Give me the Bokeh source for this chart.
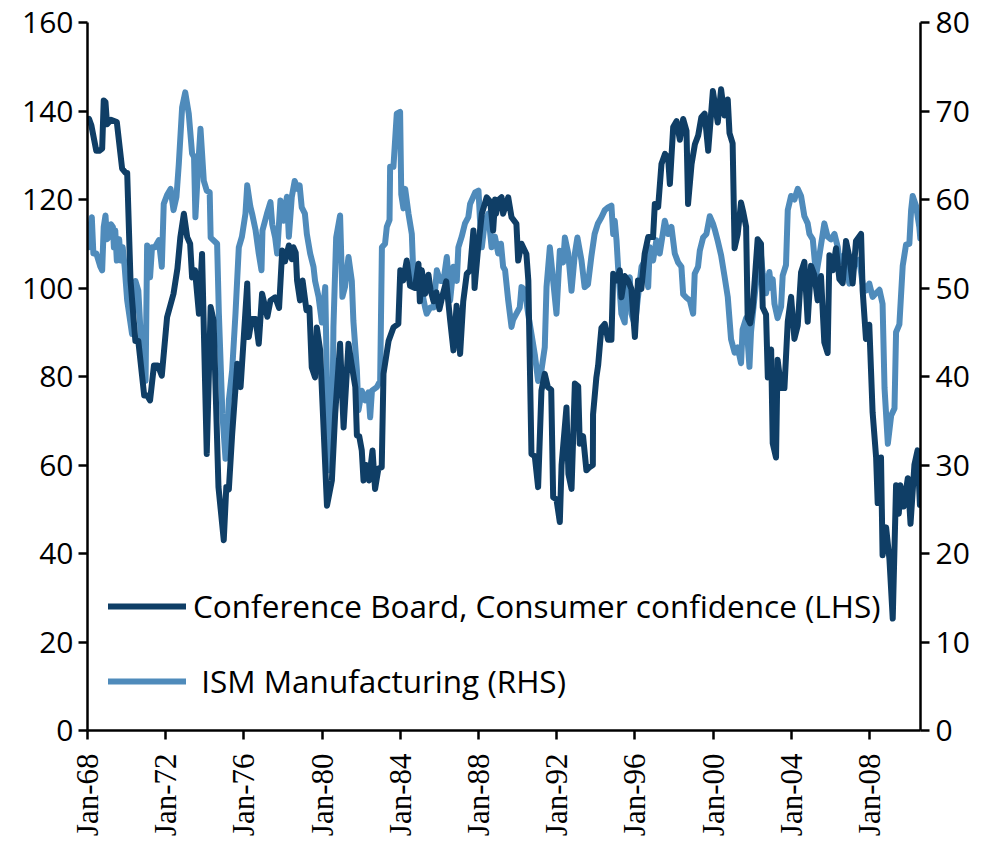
import math
from bokeh.plotting import figure
from bokeh.models import (Range1d, LinearAxis, FixedTicker, Legend, LegendItem,
                          ColumnDataSource)
from bokeh.embed import file_html
from bokeh.resources import INLINE

# ---------------- data ----------------
cb_year = [1968.00, 1968.08, 1968.20, 1968.45, 1968.60, 1968.75, 1968.83, 1968.92, 1969.00, 1969.20,
           1969.50, 1969.77, 1969.95, 1970.03, 1970.20, 1970.45, 1970.60, 1970.90, 1971.05, 1971.20,
           1971.40, 1971.60, 1971.80, 1972.07, 1972.40, 1972.60, 1972.75, 1972.93, 1973.10, 1973.25,
           1973.35, 1973.50, 1973.70, 1973.86, 1974.10, 1974.30, 1974.45, 1974.55, 1974.70, 1974.97,
           1975.10, 1975.23, 1975.40, 1975.66, 1975.83, 1976.17, 1976.25, 1976.40, 1976.60, 1976.76,
           1976.93, 1977.20, 1977.36, 1977.60, 1977.80, 1977.96, 1978.10, 1978.30, 1978.45, 1978.53,
           1978.65, 1978.72, 1978.87, 1979.00, 1979.20, 1979.35, 1979.47, 1979.64, 1979.73, 1979.90,
           1980.25, 1980.50, 1980.67, 1980.92, 1981.10, 1981.35, 1981.50, 1981.70, 1981.78, 1981.90,
           1982.03, 1982.12, 1982.25, 1982.40, 1982.58, 1982.71, 1982.88, 1983.05, 1983.14, 1983.40,
           1983.65, 1983.90, 1984.00, 1984.15, 1984.33, 1984.50, 1984.75, 1984.93, 1985.00, 1985.10,
           1985.27, 1985.44, 1985.55, 1985.70, 1985.85, 1986.00, 1986.20, 1986.35, 1986.55, 1986.72,
           1986.88, 1987.06, 1987.22, 1987.40, 1987.57, 1987.74, 1987.80, 1987.97, 1988.17, 1988.42,
           1988.60, 1988.75, 1988.85, 1988.90, 1989.05, 1989.18, 1989.26, 1989.52, 1989.69, 1989.94,
           1990.03, 1990.20, 1990.45, 1990.55, 1990.62, 1990.71, 1990.88, 1991.05, 1991.22, 1991.39,
           1991.55, 1991.72, 1991.82, 1991.99, 1992.16, 1992.25, 1992.50, 1992.60, 1992.76, 1992.93,
           1993.10, 1993.18, 1993.35, 1993.52, 1993.68, 1993.85, 1993.86, 1994.03, 1994.12, 1994.20,
           1994.29, 1994.46, 1994.63, 1994.80, 1994.89, 1995.06, 1995.23, 1995.31, 1995.48, 1995.65,
           1995.82, 1996.00, 1996.16, 1996.33, 1996.50, 1996.68, 1996.93, 1997.02, 1997.19, 1997.36,
           1997.54, 1997.70, 1997.79, 1997.96, 1998.13, 1998.30, 1998.47, 1998.64, 1998.72, 1998.90,
           1999.07, 1999.24, 1999.40, 1999.57, 1999.75, 1999.99, 2000.24, 2000.41, 2000.58, 2000.75,
           2000.84, 2001.00, 2001.10, 2001.26, 2001.43, 2001.55, 2001.69, 2001.77, 2001.90, 2002.03,
           2002.28, 2002.45, 2002.54, 2002.71, 2002.80, 2002.97, 2003.05, 2003.22, 2003.30, 2003.48,
           2003.65, 2003.82, 2003.99, 2004.16, 2004.33, 2004.50, 2004.67, 2004.84, 2005.01, 2005.18,
           2005.35, 2005.52, 2005.69, 2005.86, 2005.95, 2006.12, 2006.29, 2006.46, 2006.63, 2006.80,
           2006.97, 2007.14, 2007.31, 2007.57, 2007.65, 2007.82, 2007.99, 2008.16, 2008.34, 2008.42,
           2008.59, 2008.67, 2008.85, 2009.02, 2009.19, 2009.36, 2009.50, 2009.58, 2009.75, 2009.96,
           2010.10, 2010.30, 2010.46, 2010.58]
cb_value = [138.0, 138.2, 136.7, 131.0, 131.0, 131.5, 142.4, 142.0, 137.0, 138.0,
            137.5, 127.0, 126.0, 126.0, 101.7, 88.0, 88.0, 75.7, 75.7, 74.6,
            82.5, 82.5, 80.2, 93.4, 98.7, 104.4, 111.5, 116.8, 111.5, 110.0,
            102.4, 104.0, 94.2, 107.7, 62.5, 95.7, 92.7, 77.6, 55.0, 43.0,
            55.0, 54.5, 67.0, 82.9, 77.6, 101.0, 88.9, 93.0, 93.0, 87.4,
            98.7, 93.5, 97.2, 97.9, 95.5, 108.5, 106.0, 109.6, 106.5, 109.2,
            108.0, 101.7, 97.2, 101.7, 95.0, 95.5, 82.1, 79.8, 91.1, 86.0,
            50.8, 56.5, 71.6, 87.4, 68.5, 87.4, 83.0, 77.6, 66.7, 66.5,
            63.3, 56.5, 60.0, 56.5, 63.3, 54.6, 59.2, 59.5, 80.6, 88.0,
            91.1, 91.9, 104.0, 101.7, 106.2, 100.5, 100.0, 105.5, 97.0, 104.0,
            98.7, 103.0, 99.5, 97.0, 99.0, 95.2, 99.0, 101.5, 92.7, 85.9,
            96.0, 85.1, 97.0, 103.2, 104.0, 113.0, 100.0, 108.5, 116.8, 120.5,
            119.5, 113.0, 120.0, 116.8, 120.0, 120.5, 116.8, 120.5, 116.0, 114.5,
            106.2, 110.0, 107.7, 101.7, 84.4, 62.5, 62.0, 55.0, 76.8, 80.6,
            77.6, 77.0, 52.7, 52.2, 47.1, 60.0, 73.0, 58.0, 54.6, 78.4,
            77.8, 64.8, 66.5, 58.8, 59.5, 60.0, 71.4, 79.8, 82.5, 86.6,
            91.0, 91.9, 88.3, 88.3, 103.2, 101.7, 104.0, 97.9, 102.7, 101.7,
            99.8, 88.9, 101.7, 99.8, 107.7, 111.5, 111.5, 119.0, 118.3, 128.0,
            130.3, 129.5, 123.5, 136.4, 137.7, 133.5, 138.2, 135.5, 119.0, 128.0,
            132.5, 134.5, 138.6, 139.4, 131.0, 144.5, 137.4, 144.9, 139.0, 142.6,
            135.0, 132.7, 109.0, 112.2, 119.3, 117.0, 113.8, 93.2, 92.0, 95.6,
            111.0, 110.0, 95.6, 94.0, 79.8, 86.1, 64.9, 61.7, 83.8, 77.4,
            77.4, 92.4, 98.0, 88.5, 91.5, 103.5, 105.9, 92.4, 105.0, 103.0,
            97.2, 102.7, 87.7, 85.3, 107.4, 104.0, 109.0, 102.0, 101.1, 110.6,
            107.0, 101.0, 110.6, 112.2, 99.5, 88.5, 91.7, 71.9, 61.7, 51.4,
            61.7, 39.6, 45.9, 38.8, 25.3, 55.4, 49.0, 55.4, 50.6, 57.0,
            46.7, 60.1, 63.3, 51.0]

ism_year = [1968.00, 1968.07, 1968.15, 1968.22, 1968.30, 1968.45, 1968.66, 1968.75, 1968.83, 1968.92,
            1969.00, 1969.10, 1969.20, 1969.30, 1969.35, 1969.42, 1969.50, 1969.62, 1969.70, 1969.80,
            1969.90, 1970.03, 1970.28, 1970.45, 1970.60, 1970.80, 1970.97, 1971.05, 1971.20, 1971.30,
            1971.45, 1971.65, 1971.80, 1971.90, 1972.07, 1972.25, 1972.40, 1972.55, 1972.67, 1972.84,
            1973.00, 1973.18, 1973.35, 1973.45, 1973.52, 1973.65, 1973.78, 1973.95, 1974.10, 1974.25,
            1974.30, 1974.63, 1974.72, 1974.90, 1975.06, 1975.15, 1975.23, 1975.40, 1975.57, 1975.74,
            1975.90, 1976.08, 1976.17, 1976.33, 1976.42, 1976.60, 1976.76, 1976.90, 1976.95, 1977.18,
            1977.36, 1977.45, 1977.60, 1977.70, 1977.87, 1978.03, 1978.20, 1978.30, 1978.45, 1978.60,
            1978.75, 1978.85, 1978.96, 1979.12, 1979.22, 1979.39, 1979.56, 1979.64, 1979.82, 1979.99,
            1980.16, 1980.33, 1980.50, 1980.58, 1980.72, 1980.92, 1981.04, 1981.17, 1981.35, 1981.52,
            1981.60, 1981.78, 1981.86, 1982.03, 1982.20, 1982.37, 1982.46, 1982.55, 1982.80, 1982.97,
            1983.06, 1983.22, 1983.31, 1983.45, 1983.48, 1983.65, 1983.82, 1983.99, 1984.05, 1984.16,
            1984.25, 1984.42, 1984.59, 1984.68, 1984.85, 1985.02, 1985.10, 1985.27, 1985.35, 1985.53,
            1985.70, 1985.87, 1986.04, 1986.21, 1986.38, 1986.55, 1986.72, 1986.89, 1986.97, 1987.14,
            1987.31, 1987.48, 1987.57, 1987.83, 1988.00, 1988.08, 1988.17, 1988.33, 1988.50, 1988.67,
            1988.84, 1989.01, 1989.15, 1989.26, 1989.36, 1989.52, 1989.69, 1989.77, 1989.94, 1990.11,
            1990.20, 1990.37, 1990.54, 1990.71, 1990.88, 1991.05, 1991.22, 1991.39, 1991.48, 1991.65,
            1991.82, 1991.99, 1992.16, 1992.33, 1992.42, 1992.59, 1992.76, 1992.93, 1993.06, 1993.27,
            1993.43, 1993.60, 1993.77, 1993.94, 1994.11, 1994.29, 1994.46, 1994.63, 1994.80, 1994.89,
            1994.97, 1995.06, 1995.14, 1995.31, 1995.48, 1995.57, 1995.74, 1995.82, 1996.00, 1996.16,
            1996.34, 1996.51, 1996.68, 1996.76, 1996.93, 1997.10, 1997.27, 1997.44, 1997.53, 1997.70,
            1997.87, 1998.04, 1998.21, 1998.38, 1998.47, 1998.64, 1998.81, 1998.98, 1999.06, 1999.23,
            1999.32, 1999.49, 1999.66, 1999.83, 1999.99, 2000.10, 2000.24, 2000.41, 2000.58, 2000.75,
            2000.92, 2001.10, 2001.26, 2001.43, 2001.51, 2001.69, 2001.86, 2001.94, 2002.12, 2002.28,
            2002.45, 2002.54, 2002.71, 2002.88, 2002.97, 2003.05, 2003.14, 2003.30, 2003.48, 2003.56,
            2003.73, 2003.82, 2003.99, 2004.16, 2004.33, 2004.50, 2004.67, 2004.84, 2004.93, 2005.10,
            2005.27, 2005.44, 2005.69, 2005.86, 2006.03, 2006.21, 2006.38, 2006.46, 2006.63, 2006.80,
            2006.97, 2007.14, 2007.31, 2007.48, 2007.65, 2007.82, 2007.99, 2008.16, 2008.33, 2008.51,
            2008.67, 2008.77, 2008.94, 2009.11, 2009.28, 2009.36, 2009.53, 2009.70, 2009.87, 2010.04,
            2010.13, 2010.21, 2010.38, 2010.55, 2010.60]
ism_value = [56.5, 54.6, 56.9, 58.0, 53.9, 53.9, 52.4, 52.0, 56.9, 58.2,
             55.5, 55.8, 57.2, 56.9, 54.6, 56.5, 53.1, 55.5, 53.1, 54.6,
             52.4, 48.6, 44.8, 50.8, 49.7, 41.4, 39.5, 54.8, 51.2, 54.6,
             54.6, 55.4, 52.4, 59.5, 60.5, 61.2, 58.8, 60.3, 64.0, 70.4,
             72.1, 69.7, 65.2, 64.8, 58.0, 63.4, 68.0, 62.1, 61.0, 60.8,
             55.7, 55.0, 47.1, 35.8, 30.7, 31.6, 37.3, 40.7, 47.1, 54.6,
             55.8, 58.4, 61.6, 59.2, 58.4, 56.5, 53.9, 52.0, 56.5, 58.4,
             59.7, 57.2, 55.7, 53.9, 59.9, 57.6, 60.3, 55.8, 60.3, 62.1,
             61.2, 61.6, 59.1, 58.4, 56.1, 53.9, 52.4, 50.8, 49.0, 46.1,
             50.1, 29.4, 29.8, 45.6, 55.7, 58.2, 49.0, 50.1, 53.5, 50.8,
             46.3, 40.7, 36.2, 38.4, 37.3, 38.2, 35.4, 38.4, 38.8, 39.5,
             54.6, 55.0, 56.9, 57.7, 63.7, 63.7, 69.7, 69.9, 60.6, 59.0,
             61.2, 58.4, 56.1, 50.8, 50.5, 50.5, 49.7, 47.8, 47.1, 47.8,
             47.8, 52.0, 50.8, 50.8, 53.5, 48.6, 52.4, 50.8, 54.6, 55.8,
             57.3, 58.0, 59.5, 60.8, 61.0, 57.6, 54.6, 57.6, 58.4, 54.6,
             55.8, 53.9, 55.0, 52.4, 52.0, 48.6, 45.6, 46.4, 47.1, 47.8,
             50.1, 49.8, 47.1, 44.8, 42.5, 39.5, 40.7, 43.3, 50.1, 54.6,
             50.8, 47.1, 54.2, 52.9, 55.7, 53.9, 49.7, 53.9, 55.7, 53.1,
             50.1, 50.4, 53.5, 56.1, 57.3, 58.0, 58.8, 59.1, 59.3, 56.1,
             57.6, 55.4, 52.4, 47.1, 46.1, 50.8, 51.2, 47.1, 45.8, 49.0,
             52.4, 53.1, 50.1, 54.6, 53.1, 55.4, 53.9, 56.3, 57.6, 56.1,
             56.9, 53.9, 52.9, 52.4, 49.3, 48.9, 48.6, 47.1, 51.6, 52.4,
             54.2, 55.7, 56.1, 58.1, 57.3, 56.5, 55.3, 53.7, 51.4, 49.0,
             44.2, 42.7, 43.3, 41.5, 45.3, 46.6, 41.1, 45.0, 49.0, 52.1,
             53.7, 51.6, 49.4, 51.8, 50.0, 51.0, 48.2, 46.6, 47.9, 51.4,
             52.6, 58.8, 60.4, 60.0, 61.2, 60.4, 58.1, 57.3, 56.1, 55.5,
             51.4, 53.7, 57.3, 55.8, 55.5, 56.1, 54.6, 52.9, 53.6, 52.1,
             50.5, 52.1, 52.9, 53.2, 50.5, 49.7, 50.5, 49.0, 49.4, 49.8,
             48.2, 38.7, 32.4, 35.6, 36.4, 45.0, 45.9, 52.5, 54.9, 55.0,
             58.8, 60.4, 59.3, 56.9, 55.6]

x_ticks = [1968, 1972, 1976, 1980, 1984, 1988, 1992, 1996, 2000, 2004, 2008]
x_tick_labels = ["Jan-68", "Jan-72", "Jan-76", "Jan-80", "Jan-84", "Jan-88",
                 "Jan-92", "Jan-96", "Jan-00", "Jan-04", "Jan-08"]
left_ticks = [0, 20, 40, 60, 80, 100, 120, 140, 160]
right_ticks = [0, 10, 20, 30, 40, 50, 60, 70, 80]
cb_label = "Conference Board, Consumer confidence (LHS)"
ism_label = "\u00a0ISM Manufacturing (RHS)"

# ---------------- styling ----------------
DARK = "#0f3e66"
LIGHT = "#4f8bbb"
SANS = "Open Sans"
SERIF = "Liberation Serif"
LW = 6

p = figure(width=982, height=850, output_backend="svg", toolbar_location=None,
           x_range=Range1d(1968.0, 2010.61), y_range=Range1d(0, 160),
           min_border_left=87, min_border_right=62, min_border_top=22,
           min_border_bottom=120)
p.extra_y_ranges = {"ism": Range1d(0, 80)}
p.xaxis.visible = False
p.yaxis.visible = False
p.xgrid.visible = False
p.ygrid.visible = False
p.outline_line_color = None
p.background_fill_color = "white"
p.border_fill_color = "white"


def style_axis(ax, font, size):
    ax.axis_line_color = "black"
    ax.axis_line_width = 2.5
    ax.major_tick_line_color = "black"
    ax.major_tick_line_width = 2.5
    ax.major_tick_out = 9
    ax.major_tick_in = 0
    ax.minor_tick_line_color = None
    ax.major_label_text_font = font
    ax.major_label_text_font_size = size
    ax.major_label_text_color = "black"


xax = LinearAxis(ticker=FixedTicker(ticks=x_ticks),
                 major_label_overrides={t: l for t, l in zip(x_ticks, x_tick_labels)})
style_axis(xax, SERIF, "31px")
xax.major_label_orientation = math.pi / 2
xax.major_label_standoff = 14
p.add_layout(xax, "below")

lax = LinearAxis(ticker=FixedTicker(ticks=left_ticks))
style_axis(lax, SANS, "30px")
lax.major_label_standoff = 5
p.add_layout(lax, "left")

rax = LinearAxis(y_range_name="ism", ticker=FixedTicker(ticks=right_ticks))
style_axis(rax, SANS, "30px")
rax.major_label_standoff = 6
p.add_layout(rax, "right")

cb_src = ColumnDataSource(dict(x=cb_year, y=cb_value))
ism_src = ColumnDataSource(dict(x=ism_year, y=ism_value))

r_ism = p.line("x", "y", source=ism_src, y_range_name="ism", line_color=LIGHT,
               line_width=LW, line_join="round", line_cap="round")
r_cb = p.line("x", "y", source=cb_src, line_color=DARK, line_width=LW,
              line_join="round", line_cap="round")

legend = Legend(items=[LegendItem(label=cb_label, renderers=[r_cb]),
                       LegendItem(label=ism_label, renderers=[r_ism])],
                location=(21, 28), orientation="vertical",
                glyph_width=78, glyph_height=40, label_height=40, spacing=32,
                label_standoff=7, padding=0, margin=0,
                border_line_color=None, background_fill_alpha=0,
                label_text_font=SANS, label_text_font_size="31.5px",
                label_text_color="black", label_text_baseline="middle")
p.add_layout(legend, "center")

open("out.html", "w").write(file_html(p, INLINE))
